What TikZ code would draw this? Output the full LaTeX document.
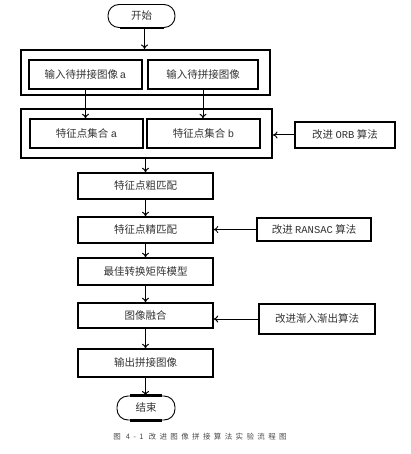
\documentclass[tikz,border=0pt]{standalone}
\usepackage{fontspec}
\setmainfont{Noto Sans CJK SC}
\newfontfamily\monof{Liberation Mono}
\newfontfamily\capfont[LetterSpace=45]{Noto Sans CJK SC}
\usetikzlibrary{arrows.meta,positioning}
\begin{document}
\begin{tikzpicture}[x=1pt,y=-1pt,
  txt/.style={text=black!80,font=\fontsize{10.5}{12}\selectfont},
  box/.style={draw,line width=1.4pt,rectangle,txt,inner sep=0pt,minimum width=135pt,minimum height=26pt},
  outer/.style={draw,line width=2pt,rectangle,inner sep=0pt},
  term/.style={draw,line width=0.9pt,rounded corners=11pt,txt,inner sep=0pt},
  arr/.style={-{To[length=4.5pt,width=7pt]},line width=1pt},
]
\useasboundingbox (0,0) rectangle (410,454);
% start
\node[term,minimum width=67pt,minimum height=23pt] (start) at (141.5,16) {开始};
\draw[line width=2.2pt] ([xshift=-22pt]start.south) -- ([xshift=22pt]start.south);
% group 1
\node[outer,minimum width=249pt,minimum height=45pt] (outer1) at (145.5,72.5) {};
\node[box,minimum width=113pt,minimum height=29pt] (ina) at (85.5,74.5) {输入待拼接图像\,{\monof a}};
\node[box,minimum width=110pt,minimum height=29pt] (inb) at (203,74.5) {输入待拼接图像};
% group 2
\node[outer,minimum width=251pt,minimum height=49pt] (outer2) at (146.5,133.5) {};
\node[box,minimum width=113pt,minimum height=29pt] (fa) at (86.5,133.5) {特征点集合 {\monof a}};
\node[box,minimum width=113pt,minimum height=29pt] (fb) at (203.5,133.5) {特征点集合 {\monof b}};
\node[box,line width=1.8pt,minimum width=100pt,minimum height=26pt] (orb) at (345,135) {改进 {\monof ORB} 算法};
% chain
\node[box] (coarse) at (145.5,186) {特征点粗匹配};
\node[box] (fine) at (145.5,230) {特征点精匹配};
\node[box,minimum width=114pt,minimum height=23pt] (ransac) at (314,229.5) {改进 {\monof RANSAC} 算法};
\node[box,minimum height=27pt] (best) at (145.5,271.5) {最佳转换矩阵模型};
\node[box,minimum height=25pt] (fuse) at (145.5,315.5) {图像融合};
\node[box,line width=2pt,minimum width=116pt,minimum height=30pt] (blend) at (317,319) {改进渐入渐出算法};
\node[box,minimum height=28pt] (out) at (145.5,363) {输出拼接图像};
\node[term,minimum width=58pt,minimum height=24pt] (end) at (146,408) {结束};
\draw[line width=2.2pt] ([xshift=-16pt]end.north) -- ([xshift=16pt]end.north);
\draw[line width=2.2pt] ([xshift=-16pt]end.south) -- ([xshift=16pt]end.south);
% caption
\node[text=black!70,font=\capfont\fontsize{7.5}{8}\selectfont] (cap) at (200,437) {图 4-1 改进图像拼接算法实验流程图};
% arrows
\draw[arr] ([xshift=3pt]start.south) -- ([xshift=3pt]start.south |- outer1.north);
\draw[arr] (ina.south) -- (ina.south |- fa.north);
\draw[arr] (inb.south) -- (inb.south |- fb.north);
\draw[arr] (orb.west) -- (orb.west -| outer2.east);
\draw[arr] ([xshift=-1pt]outer2.south) -- ([xshift=-1pt]outer2.south |- coarse.north);
\draw[arr] (coarse) -- (fine);
\draw[arr] (fine) -- (best);
\draw[arr] (best) -- (fuse);
\draw[arr] (fuse) -- (out);
\draw[arr] (out.south) -- (out.south |- end.north);
\draw[arr,line width=0.8pt] (ransac.west) -- (ransac.west -| fine.east);
\draw[arr] (blend.west) -- (blend.west -| fuse.east);
\end{tikzpicture}
\end{document}
